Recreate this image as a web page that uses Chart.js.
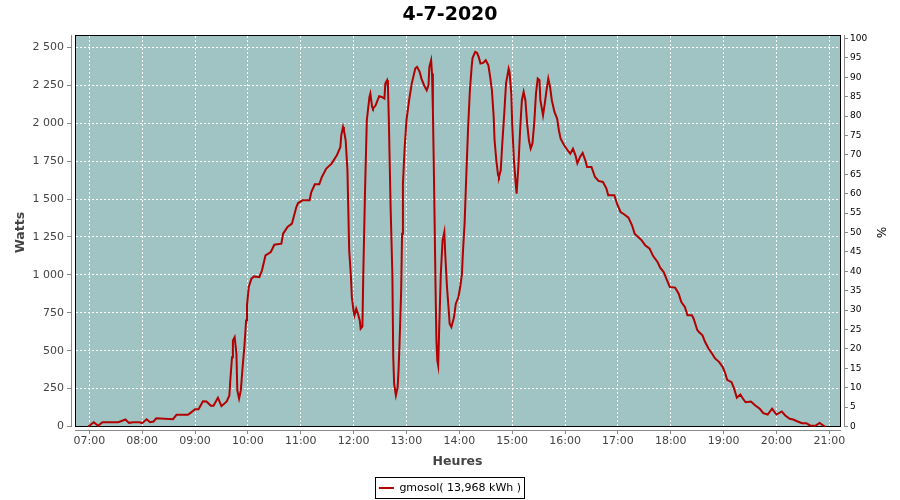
<!DOCTYPE html>
<html><head><meta charset="utf-8">
<script src="https://cdn.jsdelivr.net/npm/chart.js@4.4.1/dist/chart.umd.min.js"></script>
<style>html,body{margin:0;padding:0;background:#fff}#wrap{width:900px;height:500px}</style>
</head><body><div id="wrap"><canvas id="c" width="900" height="500"></canvas></div>
<script>
const chartTitle = '4-7-2020';
const seriesLabel = 'gmosol( 13,968 kWh )';
const xTitle = 'Heures';
const yTitle = 'Watts';
const y2Title = '%';
const hourTicks = ['07:00','08:00','09:00','10:00','11:00','12:00','13:00','14:00','15:00','16:00','17:00','18:00','19:00','20:00','21:00'];
const wattTicks = [0,250,500,750,1000,1250,1500,1750,2000,2250,2500];
const pctTicks = [0,5,10,15,20,25,30,35,40,45,50,55,60,65,70,75,80,85,90,95,100];

const times = ['06:59','07:05','07:10','07:15','07:33','07:41','07:45','07:50','07:57','08:00',
'08:05','08:09','08:13','08:16','08:35','08:39','08:52','08:56','09:00','09:04',
'09:09','09:13','09:18','09:21','09:26','09:30','09:36','09:39','09:40','09:42',
'09:43','09:45','09:47','09:48','09:50','09:52','09:54','09:56','09:58','09:59',
'10:01','10:04','10:07','10:13','10:16','10:20','10:26','10:30','10:38','10:40',
'10:45','10:50','10:55','10:57','11:02','11:10','11:12','11:16','11:21','11:24',
'11:29','11:35','11:41','11:45','11:46','11:48','11:49','11:51','11:53','11:54',
'11:55','11:57','11:58','12:00','12:01','12:03','12:05','12:07','12:08','12:10',
'12:11','12:13','12:15','12:18','12:19','12:21','12:22','12:25','12:29','12:32',
'12:35','12:36','12:38','12:39','12:40','12:42','12:44','12:45','12:46','12:48',
'12:50','12:51','12:52','12:54','12:55','12:56','12:58','13:00','13:03','13:06',
'13:10','13:12','13:15','13:17','13:20','13:23','13:25','13:26','13:28','13:29',
'13:30','13:31','13:32','13:33','13:34','13:35','13:36','13:37','13:39','13:41',
'13:43','13:44','13:46','13:48','13:49','13:51','13:54','13:56','13:59','14:01',
'14:03','14:04','14:06','14:08','14:10','14:12','14:14','14:15','14:18','14:20',
'14:22','14:24','14:27','14:30','14:33','14:35','14:37','14:39','14:40','14:42',
'14:44','14:45','14:47','14:49','14:51','14:53','14:56','14:57','14:59','15:00',
'15:02','15:04','15:05','15:07','15:09','15:11','15:13','15:15','15:17','15:19',
'15:21','15:23','15:25','15:27','15:29','15:31','15:32','15:35','15:37','15:39',
'15:41','15:43','15:45','15:48','15:51','15:53','15:55','15:59','16:03','16:06',
'16:09','16:12','16:14','16:17','16:20','16:23','16:25','16:30','16:34','16:38',
'16:43','16:47','16:49','16:56','16:59','17:03','17:07','17:12','17:16','17:19',
'17:23','17:27','17:31','17:36','17:40','17:45','17:48','17:52','17:55','17:59',
'18:05','18:09','18:12','18:16','18:19','18:24','18:26','18:30','18:32','18:36',
'18:39','18:43','18:47','18:50','18:55','18:59','19:02','19:04','19:09','19:12',
'19:15','19:19','19:22','19:25','19:31','19:36','19:41','19:45','19:50','19:55',
'19:57','20:00','20:06','20:10','20:15','20:19','20:24','20:29','20:34','20:38',
'20:44','20:49','20:53','20:55'];

const watts = [0,28,5,28,28,46,24,28,28,22,
48,28,33,55,48,77,77,95,114,114,
167,165,137,137,190,134,165,205,300,457,
568,590,480,238,183,238,392,523,700,800,
920,975,990,985,1030,1129,1151,1199,1206,1272,
1316,1338,1448,1474,1492,1492,1547,1598,1598,1646,
1701,1734,1789,1844,1921,1976,1954,1888,1690,1426,
1162,986,854,760,733,777,744,700,645,660,
1008,1558,2020,2174,2196,2108,2097,2119,2179,2174,
2163,2262,2284,2240,2020,1448,1008,458,282,205,
260,370,524,898,1272,1602,1844,2020,2152,2262,
2361,2372,2339,2295,2251,2218,2251,2372,2416,2328,
2086,1734,1338,920,568,436,403,612,1008,1228,
1283,1140,920,766,678,656,722,810,854,920,
1008,1140,1340,1668,1976,2218,2372,2430,2471,2465,
2438,2394,2398,2416,2383,2306,2218,2042,1888,1756,
1657,1646,1690,1888,2064,2262,2361,2339,2196,1998,
1756,1602,1536,1712,1954,2152,2207,2152,1998,1888,
1833,1866,1998,2196,2295,2284,2152,2053,2130,2218,
2295,2240,2152,2075,2031,1954,1899,1855,1822,1800,
1833,1785,1736,1778,1804,1756,1712,1712,1646,1620,
1613,1569,1525,1525,1470,1415,1400,1378,1327,1272,
1250,1228,1195,1173,1124,1085,1048,1019,975,920,
916,876,821,788,733,733,711,638,623,601,
557,513,480,451,425,392,348,308,292,248,
190,211,183,160,165,139,117,88,79,117,
101,79,99,73,51,46,33,22,22,7,
5,24,7,0];

function toHours(s){ const p = s.split(':').map(Number); return p[0] + p[1]/60; }
function fmtThousands(v){ return String(v).replace(/\B(?=(\d{3})+(?!\d))/g, ' '); }

const FONT = 'DejaVu Sans';
const LINE_COLOR = '#b30000';

const plotDecor = {
  id: 'plotDecor',
  beforeDraw(chart){
    const ctx = chart.ctx, a = chart.chartArea;
    ctx.save();
    ctx.fillStyle = '#ffffff';
    ctx.fillRect(0, 0, chart.width, chart.height);
    ctx.fillStyle = '#9fc4c3';
    ctx.fillRect(a.left + 4, a.top, (a.right - 4) - (a.left + 4) + 1, (a.bottom - 4) - a.top + 1);
    ctx.restore();
  },
  beforeDatasetsDraw(chart){
    const ctx = chart.ctx, a = chart.chartArea;
    const L = a.left + 4, R = a.right - 4, T = a.top, B = a.bottom - 4;
    ctx.save();
    // dashed white grid lines from the library's own scales
    ctx.strokeStyle = '#ffffff';
    ctx.lineWidth = 1;
    ctx.setLineDash([2, 2]);
    ctx.beginPath();
    chart.scales.x.ticks.forEach(t => {
      const px = Math.round(chart.scales.x.getPixelForValue(t.value) - 0.5) + 0.5;
      ctx.moveTo(px, T + 1); ctx.lineTo(px, B);
    });
    chart.scales.y.ticks.forEach(t => {
      const py = Math.round(chart.scales.y.getPixelForValue(t.value) - 0.5) + 0.5;
      ctx.moveTo(L + 1, py); ctx.lineTo(R, py);
    });
    ctx.stroke();
    ctx.setLineDash([]);
    // plot border
    ctx.strokeStyle = '#000000';
    ctx.strokeRect(L + 0.5, T + 0.5, R - L, B - T);
    // offset axis lines
    ctx.strokeStyle = '#888888';
    ctx.beginPath();
    ctx.moveTo(a.left + 0.5, T); ctx.lineTo(a.left + 0.5, B + 1);
    ctx.moveTo(L, a.bottom + 0.5); ctx.lineTo(R + 1, a.bottom + 0.5);
    ctx.moveTo(a.right + 0.5, T); ctx.lineTo(a.right + 0.5, B + 1);
    ctx.stroke();
    ctx.restore();
  },
  afterDraw(chart){
    const lg = chart.legend;
    if (!lg || !lg.legendHitBoxes || !lg.legendHitBoxes.length) return;
    const hb = lg.legendHitBoxes[0];
    const ctx = chart.ctx;
    ctx.save();
    ctx.strokeStyle = '#000000';
    ctx.lineWidth = 1;
    const cy = Math.round(hb.top + hb.height / 2);
    ctx.strokeRect(Math.round(hb.left) - 4 + 0.5, cy - 11 + 0.5, Math.round(hb.width) + 7, 21);
    ctx.restore();
  }
};

const n = Math.min(times.length, watts.length);
const points = [];
for (let i = 0; i < n; i++) points.push({x: toHours(times[i]), y: watts[i]});

new Chart(document.getElementById('c').getContext('2d'), {
  type: 'line',
  data: { datasets: [{
    label: seriesLabel, data: points,
    borderColor: LINE_COLOR, backgroundColor: LINE_COLOR,
    borderWidth: 2, pointRadius: 0, tension: 0, fill: false,
    xAxisID: 'x', yAxisID: 'y'
  }]},
  options: {
    responsive: false, maintainAspectRatio: false, animation: false, devicePixelRatio: 1,
    layout: { padding: 0 },
    events: [],
    plugins: {
      title: { display: true, text: chartTitle, color: '#000',
        font: { family: FONT, size: 19, weight: 'bold' }, padding: { top: 4, bottom: 8.2 } },
      legend: { position: 'bottom', maxHeight: 31,
        labels: { font: { family: FONT, size: 11 }, color: '#222', boxWidth: 15, boxHeight: 2, padding: 13.5,
          generateLabels: () => [{ text: seriesLabel, fillStyle: LINE_COLOR, strokeStyle: LINE_COLOR, lineWidth: 0, hidden: false, datasetIndex: 0 }] } },
      tooltip: { enabled: false }
    },
    scales: {
      x: { type: 'linear', position: 'bottom', min: 6.6538, max: 21.2774,
        afterFit: s => { s.height = 39; },
        afterBuildTicks: s => { s.ticks = hourTicks.map(t => ({ value: toHours(t) })); },
        ticks: { autoSkip: false, maxRotation: 0, minRotation: 0, padding: 1,
          font: { family: FONT, size: 11 }, color: '#444', callback: (v, i) => hourTicks[i] },
        grid: { drawOnChartArea: false, tickLength: 4, tickColor: '#888888', tickWidth: 1 },
        border: { display: false },
        title: { display: true, text: xTitle, color: '#444',
          font: { family: FONT, size: 12.5, weight: 'bold' }, padding: { top: 0, bottom: 0 } } },
      y: { type: 'linear', position: 'left', min: -23.1, max: 2582.4,
        afterFit: s => { s.width = 71; },
        afterBuildTicks: s => { s.ticks = wattTicks.map(v => ({ value: v })); },
        ticks: { autoSkip: false, padding: 3, font: { family: FONT, size: 11 }, color: '#444',
          callback: v => fmtThousands(v) },
        grid: { drawOnChartArea: false, tickLength: 4, tickColor: '#888888', tickWidth: 1 },
        border: { display: false },
        title: { display: true, text: yTitle, color: '#444',
          font: { family: FONT, size: 12.5, weight: 'bold' }, padding: { top: 13, bottom: 0 } } },
      y1: { type: 'linear', position: 'right', min: -0.902, max: 100.902,
        afterFit: s => { s.width = 56; },
        afterBuildTicks: s => { s.ticks = pctTicks.map(v => ({ value: v })); },
        ticks: { autoSkip: false, padding: 2, font: { family: FONT, size: 9 }, color: '#000',
          callback: v => String(v) },
        grid: { drawOnChartArea: false, tickLength: 4, tickColor: '#888888', tickWidth: 1 },
        border: { display: false },
        title: { display: true, text: y2Title, color: '#000',
          font: { family: FONT, size: 12 }, padding: { top: 12.8, bottom: 0 } } }
    }
  },
  plugins: [plotDecor]
});
</script>
</body></html>
